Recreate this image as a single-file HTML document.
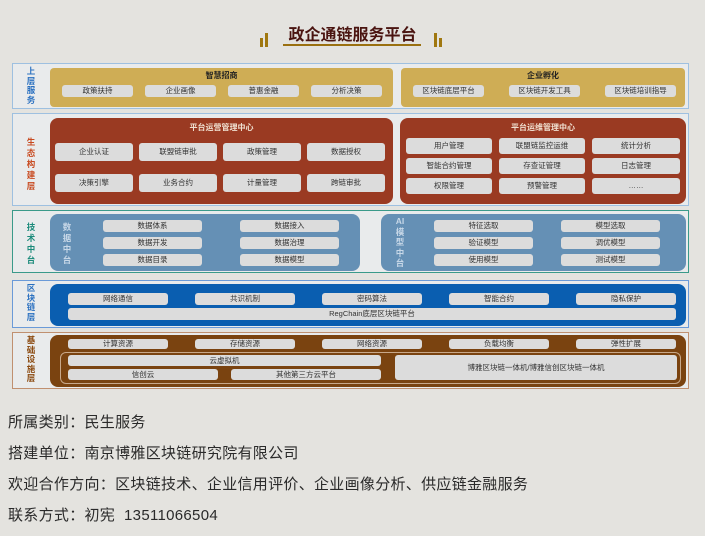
<!DOCTYPE html>
<html><head><meta charset="utf-8"><style>
*{margin:0;padding:0;box-sizing:border-box}
body{width:705px;height:536px;background:#e4e3df;font-family:"Liberation Sans","Noto Sans CJK SC",sans-serif;position:relative;overflow:hidden}
div{position:absolute}
.o{border:1px solid;background:#e9ebec}
.lab{font-size:8.5px;font-weight:bold;line-height:9.5px;width:12px;text-align:center;left:25px}
.p{border-radius:8px}
.t{font-size:8px;font-weight:bold;text-align:center;line-height:12px}
.b{background:#dcdcdc;border-radius:3px;font-size:7.5px;color:#333;text-align:center;white-space:nowrap}
.bt{position:absolute;font-size:15px;color:#2a2a2a;left:8px;letter-spacing:0.3px}
</style></head><body>
<div style="left:0;width:705px;top:21px;text-align:center;font-size:16px;font-weight:bold;color:#4a1410">政企通链服务平台</div>
<div style="left:283px;top:44px;width:138px;height:2px;background:#9a7010"></div>
<div style="left:260px;top:38px;width:3px;height:9px;background:#a07810"></div>
<div style="left:265px;top:33px;width:3px;height:14px;background:#a07810"></div>
<div style="left:434px;top:33px;width:3px;height:14px;background:#a07810"></div>
<div style="left:439px;top:38px;width:3px;height:9px;background:#a07810"></div>

<!-- row1 -->
<div class="o" style="left:12px;top:63px;width:677px;height:46px;border-color:#9ec0e0"></div>
<div class="lab" style="top:67px;color:#2a70c0">上<br>层<br>服<br>务</div>
<div class="p" style="left:50px;top:68px;width:343px;height:39px;background:#cfad55;border-radius:4px"></div>
<div class="p" style="left:401px;top:68px;width:284px;height:39px;background:#cfad55;border-radius:4px"></div>
<div class="t" style="left:50px;width:343px;top:70px;color:#222">智慧招商</div>
<div class="t" style="left:401px;width:284px;top:70px;color:#222">企业孵化</div>
<div class="b" style="left:62px;top:85px;width:71px;height:12px;line-height:12px">政策扶持</div>
<div class="b" style="left:145px;top:85px;width:71px;height:12px;line-height:12px">企业画像</div>
<div class="b" style="left:228px;top:85px;width:71px;height:12px;line-height:12px">普惠金融</div>
<div class="b" style="left:311px;top:85px;width:71px;height:12px;line-height:12px">分析决策</div>
<div class="b" style="left:413px;top:85px;width:71px;height:12px;line-height:12px">区块链底层平台</div>
<div class="b" style="left:509px;top:85px;width:71px;height:12px;line-height:12px">区块链开发工具</div>
<div class="b" style="left:605px;top:85px;width:71px;height:12px;line-height:12px">区块链培训指导</div>

<!-- row2 -->
<div class="o" style="left:12px;top:113px;width:677px;height:93px;border-color:#9ec0e0"></div>
<div class="lab" style="top:137px;color:#c84a20;line-height:11px">生<br>态<br>构<br>建<br>层</div>
<div class="p" style="left:50px;top:118px;width:343px;height:86px;background:#9a3a22"></div>
<div class="p" style="left:400px;top:118px;width:286px;height:86px;background:#9a3a22"></div>
<div class="t" style="left:50px;width:343px;top:122px;color:#f0e0d0">平台运营管理中心</div>
<div class="t" style="left:400px;width:286px;top:122px;color:#f0e0d0">平台运维管理中心</div>
<div class="b" style="left:55px;top:143px;width:78px;height:18px;line-height:18px">企业认证</div>
<div class="b" style="left:139px;top:143px;width:78px;height:18px;line-height:18px">联盟链审批</div>
<div class="b" style="left:223px;top:143px;width:78px;height:18px;line-height:18px">政策管理</div>
<div class="b" style="left:307px;top:143px;width:78px;height:18px;line-height:18px">数据授权</div>
<div class="b" style="left:55px;top:174px;width:78px;height:18px;line-height:18px">决策引擎</div>
<div class="b" style="left:139px;top:174px;width:78px;height:18px;line-height:18px">业务合约</div>
<div class="b" style="left:223px;top:174px;width:78px;height:18px;line-height:18px">计量管理</div>
<div class="b" style="left:307px;top:174px;width:78px;height:18px;line-height:18px">跨链审批</div>
<div class="b" style="left:406px;top:138px;width:86px;height:16px;line-height:16px">用户管理</div>
<div class="b" style="left:499px;top:138px;width:86px;height:16px;line-height:16px">联盟链监控运维</div>
<div class="b" style="left:592px;top:138px;width:88px;height:16px;line-height:16px">统计分析</div>
<div class="b" style="left:406px;top:158px;width:86px;height:16px;line-height:16px">智能合约管理</div>
<div class="b" style="left:499px;top:158px;width:86px;height:16px;line-height:16px">存查证管理</div>
<div class="b" style="left:592px;top:158px;width:88px;height:16px;line-height:16px">日志管理</div>
<div class="b" style="left:406px;top:178px;width:86px;height:16px;line-height:16px">权限管理</div>
<div class="b" style="left:499px;top:178px;width:86px;height:16px;line-height:16px">预警管理</div>
<div class="b" style="left:592px;top:178px;width:88px;height:16px;line-height:16px">……</div>

<!-- row3 -->
<div class="o" style="left:12px;top:210px;width:677px;height:63px;border-color:#3a9a8a"></div>
<div class="lab" style="top:222px;color:#1a8a7a;line-height:11px">技<br>术<br>中<br>台</div>
<div class="p" style="left:50px;top:214px;width:310px;height:57px;background:#6590b5"></div>
<div class="p" style="left:381px;top:214px;width:305px;height:57px;background:#6590b5"></div>
<div class="lab" style="left:61px;top:222px;color:#c8d8e8;line-height:11px">数<br>据<br>中<br>台</div>
<div class="lab" style="left:394px;top:216px;color:#c8d8e8;line-height:10.5px">AI<br>模<br>型<br>中<br>台</div>
<div class="b" style="left:103px;top:220px;width:99px;height:12px;line-height:12px">数据体系</div>
<div class="b" style="left:240px;top:220px;width:99px;height:12px;line-height:12px">数据接入</div>
<div class="b" style="left:103px;top:237px;width:99px;height:12px;line-height:12px">数据开发</div>
<div class="b" style="left:240px;top:237px;width:99px;height:12px;line-height:12px">数据治理</div>
<div class="b" style="left:103px;top:254px;width:99px;height:12px;line-height:12px">数据目录</div>
<div class="b" style="left:240px;top:254px;width:99px;height:12px;line-height:12px">数据模型</div>
<div class="b" style="left:434px;top:220px;width:99px;height:12px;line-height:12px">特征选取</div>
<div class="b" style="left:561px;top:220px;width:99px;height:12px;line-height:12px">模型选取</div>
<div class="b" style="left:434px;top:237px;width:99px;height:12px;line-height:12px">验证模型</div>
<div class="b" style="left:561px;top:237px;width:99px;height:12px;line-height:12px">调优模型</div>
<div class="b" style="left:434px;top:254px;width:99px;height:12px;line-height:12px">使用模型</div>
<div class="b" style="left:561px;top:254px;width:99px;height:12px;line-height:12px">测试模型</div>

<!-- row4 -->
<div class="o" style="left:12px;top:280px;width:677px;height:48px;border-color:#6a9ad8"></div>
<div class="lab" style="top:284px;color:#2a70c0">区<br>块<br>链<br>层</div>
<div class="p" style="left:50px;top:284px;width:636px;height:42px;background:#0a5eb0"></div>
<div class="b" style="left:68px;top:293px;width:100px;height:12px;line-height:12px">网络通信</div>
<div class="b" style="left:195px;top:293px;width:100px;height:12px;line-height:12px">共识机制</div>
<div class="b" style="left:322px;top:293px;width:100px;height:12px;line-height:12px">密码算法</div>
<div class="b" style="left:449px;top:293px;width:100px;height:12px;line-height:12px">智能合约</div>
<div class="b" style="left:576px;top:293px;width:100px;height:12px;line-height:12px">隐私保护</div>
<div class="b" style="left:68px;top:308px;width:608px;height:12px;line-height:12px">RegChain底层区块链平台</div>

<!-- row5 -->
<div class="o" style="left:12px;top:332px;width:677px;height:57px;border-color:#c09070"></div>
<div class="lab" style="top:336px;color:#8b4a10">基<br>础<br>设<br>施<br>层</div>
<div class="p" style="left:50px;top:335px;width:636px;height:52px;background:#7a4310"></div>
<div class="b" style="left:68px;top:339px;width:100px;height:10px;line-height:10px">计算资源</div>
<div class="b" style="left:195px;top:339px;width:100px;height:10px;line-height:10px">存储资源</div>
<div class="b" style="left:322px;top:339px;width:100px;height:10px;line-height:10px">网络资源</div>
<div class="b" style="left:449px;top:339px;width:100px;height:10px;line-height:10px">负载均衡</div>
<div class="b" style="left:576px;top:339px;width:100px;height:10px;line-height:10px">弹性扩展</div>
<div style="left:60px;top:352px;width:621px;height:32px;border:1px solid #c8a88a;border-radius:6px"></div>
<div class="b" style="left:68px;top:355px;width:313px;height:11px;line-height:11px">云虚拟机</div>
<div class="b" style="left:68px;top:369px;width:150px;height:11px;line-height:11px">信创云</div>
<div class="b" style="left:231px;top:369px;width:150px;height:11px;line-height:11px">其他第三方云平台</div>
<div class="b" style="left:395px;top:355px;width:282px;height:25px;line-height:25px">博雅区块链一体机/博雅信创区块链一体机</div>

<div class="bt" style="top:411px">所属类别：民生服务</div>
<div class="bt" style="top:442px">搭建单位：南京博雅区块链研究院有限公司</div>
<div class="bt" style="top:473px">欢迎合作方向：区块链技术、企业信用评价、企业画像分析、供应链金融服务</div>
<div class="bt" style="top:504px">联系方式：初宪&nbsp; 13511066504</div>
</body></html>
